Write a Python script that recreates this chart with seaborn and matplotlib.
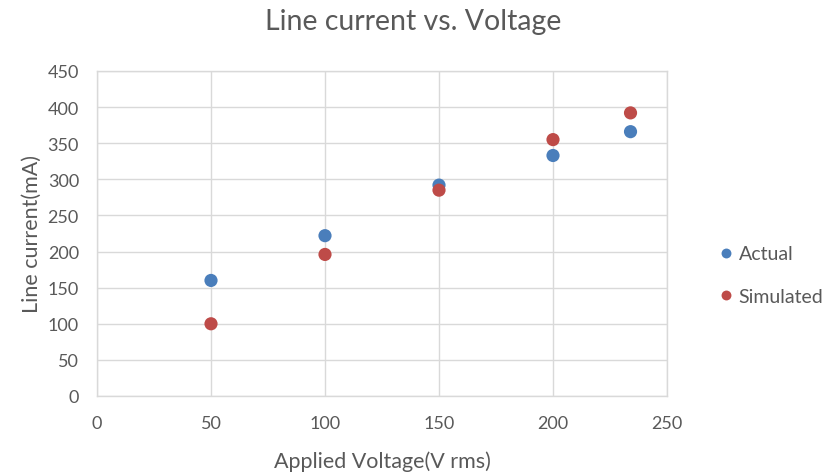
import matplotlib
matplotlib.use("Agg")
import matplotlib.pyplot as plt
import seaborn as sns
import pandas as pd

voltage = [50, 100, 150, 200, 234]
actual_ma = [160, 222, 292, 333, 366]
simulated_ma = [100, 196, 285, 355, 392]
series_names = ["Actual", "Simulated"]
x_ticks = [0, 50, 100, 150, 200, 250]
y_ticks = [0, 50, 100, 150, 200, 250, 300, 350, 400, 450]

df = pd.DataFrame({
    "voltage": voltage * 2,
    "current": actual_ma + simulated_ma,
    "series": [series_names[0]] * len(voltage) + [series_names[1]] * len(voltage),
})

sns.set_theme(style="whitegrid")
plt.rcParams["font.family"] = ["Lato", "DejaVu Sans"]
text_color = "#595959"
grid_color = "#d9d9d9"

fig = plt.figure(figsize=(8.29, 4.77), dpi=100)
ax = fig.add_axes([97 / 829, 1 - 397 / 477, (667 - 97) / 829, (397 - 72) / 477])

sns.scatterplot(
    data=df, x="voltage", y="current", hue="series",
    palette={"Actual": "#4a7ebb", "Simulated": "#be4b48"},
    s=90, edgecolor="none", ax=ax, zorder=3,
)

ax.set_xlim(0, 250)
ax.set_ylim(0, 450)
ax.set_xticks(x_ticks)
ax.set_yticks(y_ticks)
ax.grid(True, color=grid_color, linewidth=1)
for side, sp in ax.spines.items():
    sp.set_color(grid_color)
    sp.set_linewidth(1)
ax.tick_params(axis="both", colors=text_color, labelsize=13, length=0)
ax.tick_params(axis="x", pad=14)
ax.tick_params(axis="y", pad=13)

ax.set_xlabel("Applied Voltage(V rms)", color=text_color, fontsize=15.5, labelpad=14)
ax.set_ylabel("Line current(mA)", color=text_color, fontsize=15.5, labelpad=4)
fig.text(413 / 829, 1 - 22 / 477, "Line current vs. Voltage", ha="center", va="center",
         color=text_color, fontsize=20.5)

leg = ax.legend(loc="center left", bbox_to_anchor=(720 / 829, 1 - 276 / 477),
                bbox_transform=fig.transFigure, frameon=False,
                fontsize=14, handlelength=0.65, handletextpad=0.3, labelspacing=1.3,
                markerscale=0.75, borderpad=0, borderaxespad=0)
for t in leg.get_texts():
    t.set_color(text_color)

fig.savefig("out.png", dpi=100)
